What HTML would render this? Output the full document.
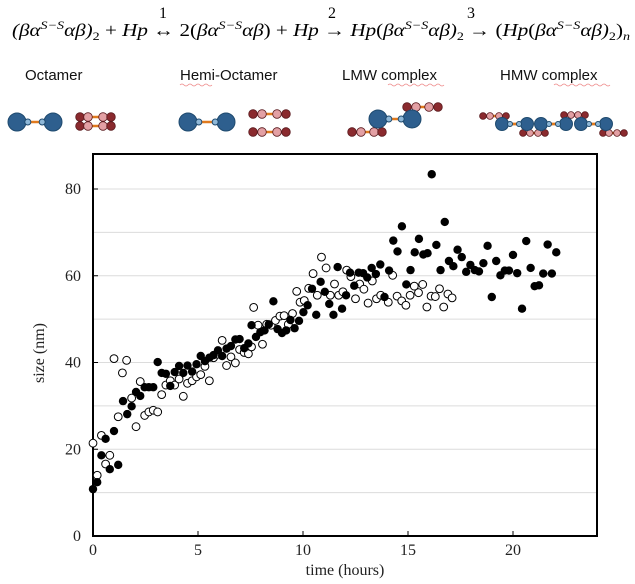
<!DOCTYPE html>
<html><head><meta charset="utf-8"><style>
html,body{margin:0;padding:0;background:#fff;}
svg{display:block;}
.eq{font-family:"Liberation Serif",serif;font-style:italic;font-size:18px;}
.num{font-family:"Liberation Serif",serif;font-size:16px;}
.lab{font-family:"Liberation Sans",sans-serif;font-size:15px;fill:#111;}
.tick{font-family:"Liberation Serif",serif;font-size:16px;fill:#222;}
</style></head><body>
<svg id="svg" width="635" height="584" viewBox="0 0 635 584" xmlns="http://www.w3.org/2000/svg">
<g>
<text class="eq" x="12" y="36" textLength="618" lengthAdjust="spacingAndGlyphs">(βα<tspan font-size="12" dy="-7">S−S</tspan><tspan dy="7">αβ)</tspan><tspan font-size="12" font-style="normal" dy="4">2</tspan><tspan dy="-4" font-style="normal"> + </tspan>Hp<tspan font-style="normal"> ↔ 2(</tspan>βα<tspan font-size="12" dy="-7">S−S</tspan><tspan dy="7">αβ</tspan><tspan font-style="normal">) + </tspan>Hp<tspan font-style="normal"> → </tspan>Hp<tspan font-style="normal">(</tspan>βα<tspan font-size="12" dy="-7">S−S</tspan><tspan dy="7">αβ)</tspan><tspan font-size="12" font-style="normal" dy="4">2</tspan><tspan dy="-4" font-style="normal"> → (</tspan>Hp<tspan font-style="normal">(</tspan>βα<tspan font-size="12" dy="-7">S−S</tspan><tspan dy="7">αβ)</tspan><tspan font-size="12" font-style="normal" dy="4">2</tspan><tspan dy="-4" font-style="normal">)</tspan><tspan font-size="12" dy="4">n</tspan></text>
<text class="num" x="159" y="18">1</text>
<text class="num" x="328" y="18">2</text>
<text class="num" x="467" y="18">3</text>
</g>
<g>
<text class="lab" x="25" y="80">Octamer</text>
<text class="lab" x="180" y="80">Hemi-Octamer</text>
<text class="lab" x="342" y="80">LMW complex</text>
<text class="lab" x="500" y="80">HMW complex</text>
<path d="M180 85 q2 -2 4 0 t4 0 t4 0 t4 0 t4 0 t4 0 t4 0 t4 0" stroke="#e88" fill="none" stroke-width="0.8"/>
<path d="M388 85 q2 -2 4 0 t4 0 t4 0 t4 0 t4 0 t4 0 t4 0 t4 0 t4 0 t4 0 t4 0 t4 0 t4 0 t4 0" stroke="#e88" fill="none" stroke-width="0.8"/>
<path d="M554 85 q2 -2 4 0 t4 0 t4 0 t4 0 t4 0 t4 0 t4 0 t4 0 t4 0 t4 0 t4 0 t4 0 t4 0 t4 0" stroke="#e88" fill="none" stroke-width="0.8"/>
</g>
<g id="icons"></g>
<g id="chart"></g>
</svg>
<script>
// chart data
const xTicks = [0, 5, 10, 15, 20];
const yTicks = [0, 20, 40, 60, 80];
const gridValues = [10, 20, 30, 40, 50, 60, 70, 80];
const filledTime = [0,0.2,0.4,0.6,0.8,1.0,1.2,1.43,1.63,1.84,2.05,2.25,2.46,2.66,2.87,3.08,3.27,3.47,3.68,3.89,4.1,4.3,4.5,4.72,4.93,5.13,5.33,5.54,5.74,5.95,6.15,6.36,6.57,6.78,6.98,7.2,7.4,7.55,7.76,7.97,8.17,8.37,8.59,8.79,9.0,9.2,9.4,9.6,9.81,10.02,10.22,10.43,10.63,10.84,11.04,11.25,11.45,11.65,11.86,12.05,12.24,12.44,12.65,12.86,13.06,13.27,13.47,13.68,13.88,14.1,14.3,14.5,14.71,14.92,15.12,15.32,15.52,15.73,15.93,16.13,16.35,16.55,16.75,16.95,17.16,17.36,17.56,17.77,17.97,18.18,18.38,18.59,18.79,18.99,19.2,19.4,19.61,19.81,20.0,20.2,20.43,20.63,20.84,21.03,21.24,21.44,21.65,21.85,22.06];
const filledSize = [10.8,12.4,18.6,22.4,15.4,24.2,16.4,31.1,28.1,29.9,33.2,32.3,34.3,34.3,34.3,40.1,37.6,37.4,34.6,37.8,39.2,37.6,39.3,37.9,39.6,41.5,40.3,41.1,41.7,42.8,41.5,43.2,43.8,45.3,45.4,43.3,44.4,48.6,45.9,47,47.4,48.8,54.1,47.7,46.8,47.4,49.8,47.9,49.6,51.6,53.2,57,51,58.6,56.3,53.5,51,62,52.4,55.5,60.7,57.7,60.7,60.6,59.6,61.8,60.4,62.6,55.1,61.2,68.1,65.6,71.4,58,61.3,65.4,68.5,64.9,65.2,83.4,67.1,61.3,72.4,63.4,62.2,66,64.3,60.9,62.5,61.3,61,62.9,66.9,55.1,63.4,60.1,61.2,61.2,64.8,60.6,52.4,68,61.8,57.6,57.8,60.5,67.2,60.5,65.4];
const openTime = [0,0.2,0.4,0.6,0.8,1.0,1.2,1.4,1.6,1.84,2.05,2.25,2.46,2.66,2.87,3.08,3.27,3.47,3.68,3.89,4.1,4.3,4.5,4.72,4.93,5.13,5.33,5.54,5.74,5.95,6.15,6.36,6.57,6.78,6.98,7.2,7.4,7.55,7.65,7.86,8.07,8.27,8.48,8.69,8.9,9.1,9.3,9.5,9.7,9.86,10.06,10.27,10.48,10.68,10.88,11.1,11.3,11.5,11.7,11.9,12.08,12.28,12.5,12.7,12.9,13.1,13.3,13.5,13.7,14.06,14.27,14.48,14.7,14.9,15.1,15.3,15.5,15.7,15.9,16.1,16.3,16.5,16.7,16.9,17.1];
const openSize = [21.4,14.0,23.2,16.6,18.6,40.9,27.5,37.6,40.5,31.8,25.2,35.6,27.8,28.6,29,28.6,32.6,34.8,35.8,34.8,36.2,32.2,35.2,35.8,36.7,37.2,39.1,35.8,41.1,41.9,45.1,39.3,41.3,39.9,43,42.3,42,43.6,52.7,48.6,44.2,48.8,48.6,49.7,50.7,50.8,48.8,51.3,56.4,53.9,54.3,57.1,60.5,55.5,64.3,61.8,55.5,58.1,55.5,56.3,61.3,59.8,54.7,58.1,56.9,53.7,58.8,54.7,55.5,53.9,60.1,55.3,54.2,53.2,55.5,57.6,56.1,58,52.8,55.3,55.2,57,52.8,55.8,54.9];

const NS = 'http://www.w3.org/2000/svg';
const L = 93, R = 597, T = 154, B = 536;
function xs(v){ return L + v * 21.0; }
function ys(v){ return B - v * (B - 189) / 80; }
function mk(tag, attrs, parent){ const e = document.createElementNS(NS, tag); for (const k in attrs) e.setAttribute(k, attrs[k]); parent.appendChild(e); return e; }

const chart = document.getElementById('chart');
gridValues.forEach(v => {
  const g = mk('line', {x1: L, x2: R, y1: ys(v), y2: ys(v), stroke: '#dcdcdc', 'stroke-width': 1}, chart);
  
  
});
yTicks.forEach(v => {
  const t = mk('line', {x1: L, x2: L + 5, y1: ys(v), y2: ys(v), stroke: '#000', 'stroke-width': 1}, chart);
  
  
  const tx = mk('text', {x: 81, y: ys(v) + 5, 'text-anchor': 'end', class: 'tick'}, chart);
  tx.textContent = v;
  
  
});
xTicks.forEach(v => {
  const t = mk('line', {x1: xs(v), x2: xs(v), y1: B, y2: B - 5, stroke: '#000', 'stroke-width': 1}, chart);
  
  
  const tx = mk('text', {x: xs(v), y: 555, 'text-anchor': 'middle', class: 'tick'}, chart);
  tx.textContent = v;
  
  
});
const frame = mk('rect', {x: L, y: T, width: R - L, height: B - T, fill: 'none', stroke: '#000', 'stroke-width': 2}, chart);


const xt = mk('text', {x: 345, y: 575, 'text-anchor': 'middle', class: 'tick', 'font-size': '15'}, chart);
xt.textContent = 'time (hours)';


const yt = mk('text', {x: 44, y: 353, 'text-anchor': 'middle', class: 'tick', 'font-size': '15', transform: 'rotate(-90 44 353)'}, chart);
yt.textContent = 'size (nm)';



openTime.forEach((t, i) => {
  const c = mk('circle', {cx: xs(t), cy: ys(openSize[i]), r: 3.9, fill: '#fff', stroke: '#000', 'stroke-width': 1}, chart);
  
  
});
filledTime.forEach((t, i) => {
  const c = mk('circle', {cx: xs(t), cy: ys(filledSize[i]), r: 4.2, fill: '#000'}, chart);
  
  
});

// icons
const icons = document.getElementById('icons');
const BLUE = '#2e5f8e', BLUE_S = '#1f4a6e', LB = '#8fb8d8', DR = '#8a2a2e', PK = '#e3a0a4', OR = '#e07a1e';
function bar(x1, y1, x2, y2, w){ mk('line', {x1, y1, x2, y2, stroke: OR, 'stroke-width': w || 2.5}, icons); }
function blue(x, y, r){ mk('circle', {cx: x, cy: y, r, fill: BLUE, stroke: BLUE_S, 'stroke-width': 1}, icons); }
function small(x, y, r){ mk('circle', {cx: x, cy: y, r, fill: LB, stroke: BLUE_S, 'stroke-width': 1}, icons); }
function red(x, y, r, pink){ mk('circle', {cx: x, cy: y, r, fill: pink ? PK : DR, stroke: '#5a1a1e', 'stroke-width': 0.8}, icons); }
function dimer(x1, x2, y, R, r){ const s1 = x1 + R + r*0.6, s2 = x2 - R - r*0.6; bar(s1, y, s2, y); blue(x1, y, R); blue(x2, y, R); small(s1, y, r); small(s2, y, r); }
function chain(xsArr, y, r){ bar(xsArr[1], y, xsArr[2], y, 2.5); xsArr.forEach((x, i) => red(x, y, r, i === 1 || i === 2)); }
dimer(17, 53, 122, 9, 3);
bar(88,117,103,117); bar(88,126,103,126);
[[80,0],[88,1],[103,1],[111,0]].forEach(p => { red(p[0],117,4.3,p[1]); red(p[0],126,4.3,p[1]); });
dimer(188, 226, 122, 9, 3);
chain([253,262,277,286], 114, 4.3);
chain([253,262,277,286], 132, 4.3);
chain([407,416,429,438], 107, 4.3);
chain([352,361,374,382], 132, 4.3);
dimer(378, 412, 119, 9, 3);
chain([483,490,499,506], 116, 3.4);
chain([564,571,578,585], 115, 3.4);
chain([523,530,538,545], 133, 3.4);
chain([603,609,617,624], 133, 3.4);
bar(508,124,521,124); bar(547,124,560,124); bar(587,124,600,124);
dimer(502, 527, 124, 6.5, 2.5);
dimer(541, 566, 124, 6.5, 2.5);
dimer(581, 606, 124, 6.5, 2.5);
</script>
</body></html>
